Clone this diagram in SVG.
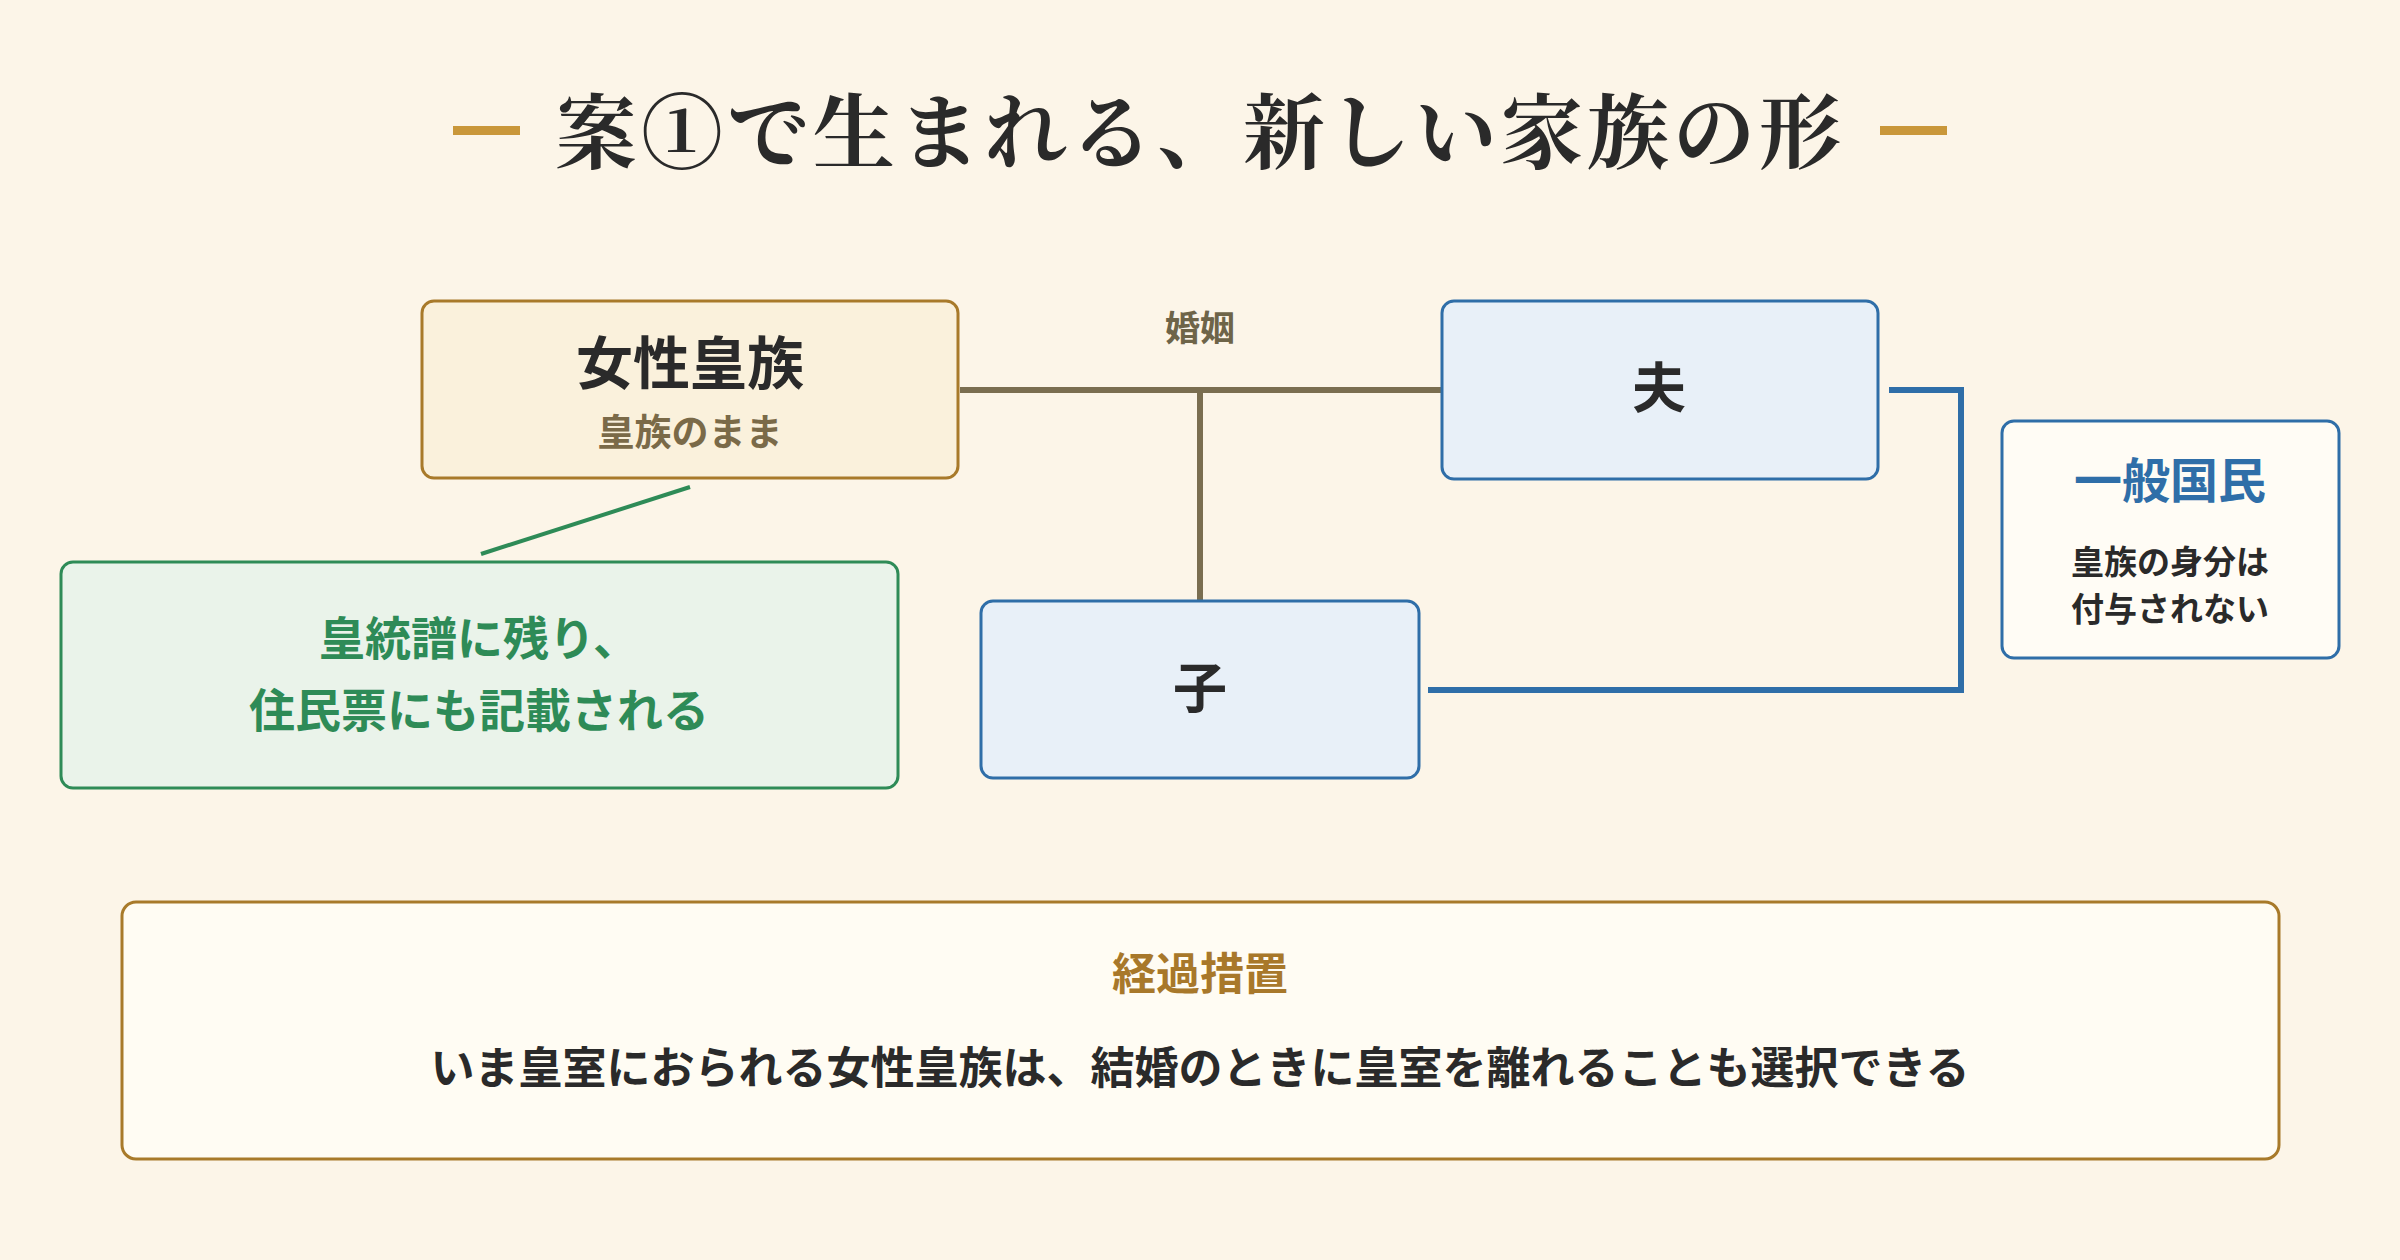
<svg xmlns="http://www.w3.org/2000/svg" width="2400" height="1260" viewBox="0 0 2400 1260">
<style>
text{font-family:"Noto Sans CJK JP","Noto Sans",sans-serif;font-weight:700;text-anchor:middle}
.box{stroke-width:3}
.gold{fill:#faf1dc;stroke:#a87a2a}
.blue{fill:#e8f0f8;stroke:#2f6ea8}
.ln{fill:none;stroke-width:6}
</style>
<rect width="2400" height="1260" fill="#fcf5e8"/>
<g id="title">
<rect x="453" y="126" width="67" height="9" fill="#c9973a"/>
<rect x="1880" y="126" width="67" height="9" fill="#c9973a"/>
<text x="1200" y="162" font-size="82" font-weight="500" letter-spacing="4" fill="#2a2a2a" style="font-family:'Noto Serif CJK JP','Noto Sans CJK JP',serif">案①で生まれる、新しい家族の形</text>
</g>
<g id="connectors">
<path class="ln" d="M960 390H1442M1200 390V601" stroke="#7a6e50"/>
<path class="ln" d="M1889 390H1961V690H1428" stroke="#2f6ea8" stroke-width="5"/>
<path d="M690 487L481 554" stroke="#2e8b57" stroke-width="4"/>
<text x="1200" y="341" font-size="35" fill="#6e6448">婚姻</text>
</g>
<g id="woman">
<rect class="box gold" x="422" y="301" width="536" height="177" rx="12"/>
<text x="690" y="384" font-size="57" fill="#2a2a2a">女性皇族</text>
<text x="690" y="446" font-size="37" fill="#7a6a48">皇族のまま</text>
</g>
<g id="husband">
<rect class="box blue" x="1442" y="301" width="436" height="178" rx="12"/>
<text x="1659" y="408" font-size="54" fill="#2a2a2a">夫</text>
</g>
<g id="child">
<rect class="box blue" x="981" y="601" width="438" height="177" rx="12"/>
<text x="1200" y="708" font-size="54" fill="#2a2a2a">子</text>
</g>
<g id="commoner">
<rect class="box" x="2002" y="421" width="337" height="237" rx="12" fill="#fffcf5" stroke="#2f6ea8"/>
<text x="2170" y="498" font-size="48" fill="#2f6ea8">一般国民</text>
<text x="2170" y="574" font-size="33" fill="#2a2a2a">皇族の身分は</text>
<text x="2170" y="621" font-size="33" fill="#2a2a2a">付与されない</text>
</g>
<g id="note">
<rect class="box" x="61" y="562" width="837" height="226" rx="12" fill="#eaf3ea" stroke="#2e8b57"/>
<text x="479" y="655" font-size="46" fill="#2e8b57">皇統譜に残り、</text>
<text x="479" y="727" font-size="46" fill="#2e8b57">住民票にも記載される</text>
</g>
<g id="transition">
<rect class="box" x="122" y="902" width="2157" height="257" rx="14" fill="#fffcf3" stroke="#a87a2a"/>
<text x="1200" y="990" font-size="44" fill="#a8782a">経過措置</text>
<text x="1200" y="1084" font-size="44" fill="#2a2a2a">いま皇室におられる女性皇族は、結婚のときに皇室を離れることも選択できる</text>
</g>
</svg>
